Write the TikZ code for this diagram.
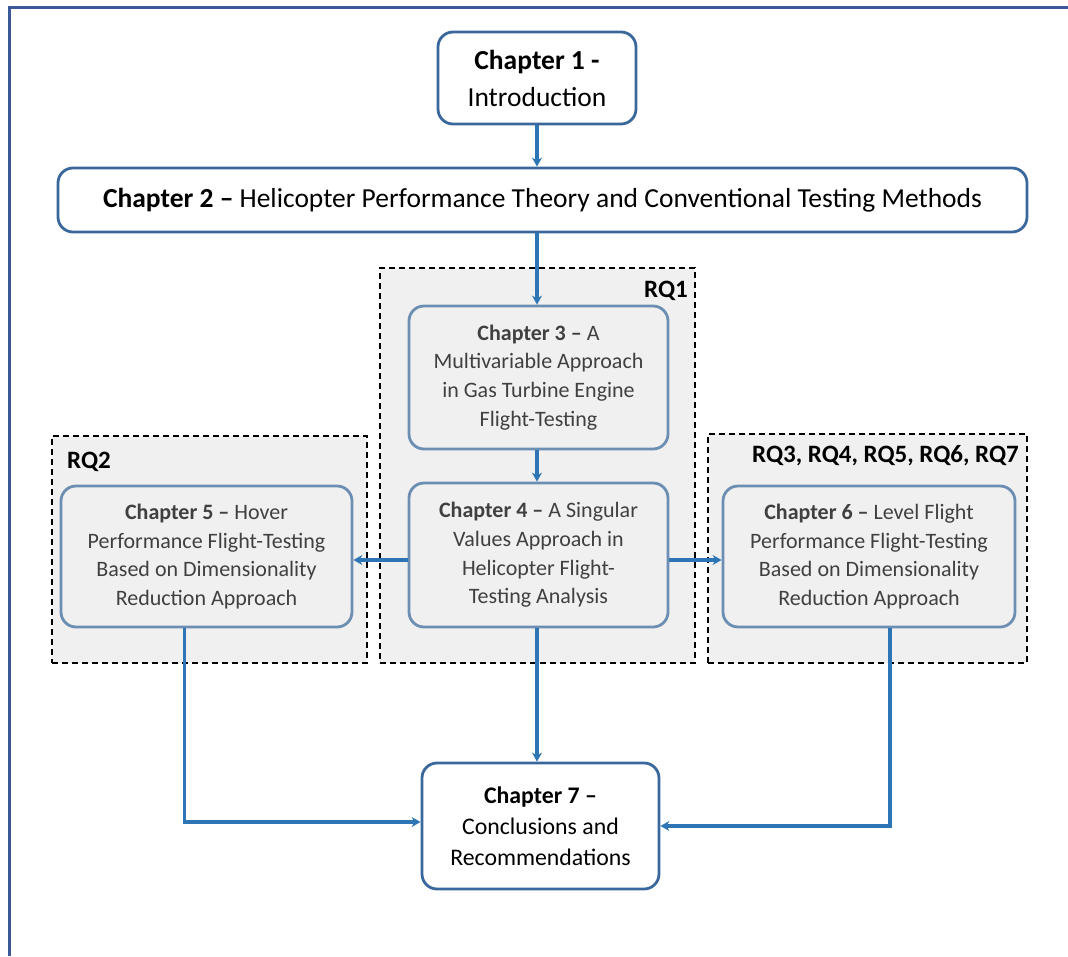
\documentclass[tikz,border=0pt]{standalone}
\usepackage{fontspec}
\setmainfont{Carlito}
\usetikzlibrary{arrows.meta,positioning}

\definecolor{framec}{RGB}{59,89,152}
\definecolor{arrowc}{RGB}{46,117,182}
\definecolor{chapc}{RGB}{58,104,156}
\definecolor{greyc}{RGB}{108,142,178}
\definecolor{greyfill}{RGB}{240,240,240}
\definecolor{greytext}{RGB}{64,64,64}

\begin{document}
\begin{tikzpicture}[x=1pt,y=-1pt,>={Stealth[length=9pt,width=10pt,inset=3pt]},
  chapbox/.style={draw=chapc,line width=2.8pt,rounded corners=15pt,fill=white,
    align=center,inner sep=0pt,font=\fontsize{27.5}{37}\selectfont},
  greybox/.style={draw=greyc,line width=2.8pt,rounded corners=15pt,fill=greyfill,
    align=center,inner sep=0pt,text=greytext,font=\fontsize{22}{28.7}\selectfont},
  rqbox/.style={draw=black,line width=1.8pt,dash pattern=on 6pt off 4pt,fill=greyfill,inner sep=0pt},
  rqlabel/.style={font=\fontsize{25}{28}\selectfont\bfseries,inner sep=0pt},
  flow/.style={->,draw=arrowc,line width=3.2pt}]
  \useasboundingbox (0,0) rectangle (1068,956);
  % ---- page frame (open to the right and bottom) ----
  \draw[line width=3pt,framec] (1068,7) -- (9,7) -- (9,956);
  % ---- research question groups ----
  \node[rqbox,minimum width=315,minimum height=395] (rq1) at (537.5,465.5) {};
  \node[rqbox,minimum width=315,minimum height=227] (rq2) at (209.5,549.5) {};
  \node[rqbox,minimum width=319,minimum height=229] (rq3) at (867.5,548.5) {};
  \node[rqlabel,anchor=north east] (rq1lab) at (688,281) {RQ1};
  \node[rqlabel,anchor=north west] (rq2lab) at (67,452) {RQ2};
  \node[rqlabel,anchor=north east] (rq3lab) at (1019,445) {RQ3, RQ4, RQ5, RQ6, RQ7};
  % ---- chapters ----
  \node[chapbox,minimum width=198,minimum height=92] (ch1) at (537,78)
    {\textbf{Chapter 1 -}\\Introduction};
  \node[chapbox,minimum width=969,minimum height=64] (ch2) at (542.5,200)
    {\textbf{Chapter 2 --} Helicopter Performance Theory and Conventional Testing Methods};
  \node[greybox,minimum width=259,minimum height=143] (ch3) at (538.5,377.5)
    {\textbf{Chapter 3 --} A\\Multivariable Approach\\in Gas Turbine Engine\\Flight-Testing};
  \node[greybox,minimum width=259,minimum height=144] (ch4) at (538.5,555)
    {\textbf{Chapter 4 --} A Singular\\Values Approach in\\Helicopter Flight-\\Testing Analysis};
  \node[greybox,minimum width=291,minimum height=141] (ch5) at (206.5,556.5)
    {\textbf{Chapter 5 --} Hover\\Performance Flight-Testing\\Based on Dimensionality\\Reduction Approach};
  \node[greybox,minimum width=292,minimum height=141] (ch6) at (869,556.5)
    {\textbf{Chapter 6 --} Level Flight\\Performance Flight-Testing\\Based on Dimensionality\\Reduction Approach};
  \node[chapbox,minimum width=237,minimum height=126,font=\fontsize{23.8}{31}\selectfont] (ch7) at (540.5,826)
    {\textbf{Chapter 7 --}\\Conclusions and\\Recommendations};
  % ---- connectors ----
  \draw[flow] (ch1.south) -- (ch1.south |- ch2.north);
  \draw[flow] (ch1.south |- ch2.south) -- (ch1.south |- ch3.north);
  \draw[flow] (ch1.south |- ch3.south) -- (ch1.south |- ch4.north);
  \draw[flow] ([yshift=-5pt]ch4.west) -- ([yshift=-5pt]ch4.west -| ch5.east);
  \draw[flow] ([yshift=-5pt]ch4.east) -- ([yshift=-5pt]ch4.east -| ch6.west);
  \draw[flow] (ch1.south |- ch4.south) -- (ch1.south |- ch7.north);
  \draw[flow] ([xshift=-22pt]ch5.south) |- ([yshift=4pt]ch7.west);
  \draw[flow] ([xshift=21pt]ch6.south) |- (ch7.east);
\end{tikzpicture}
\end{document}
